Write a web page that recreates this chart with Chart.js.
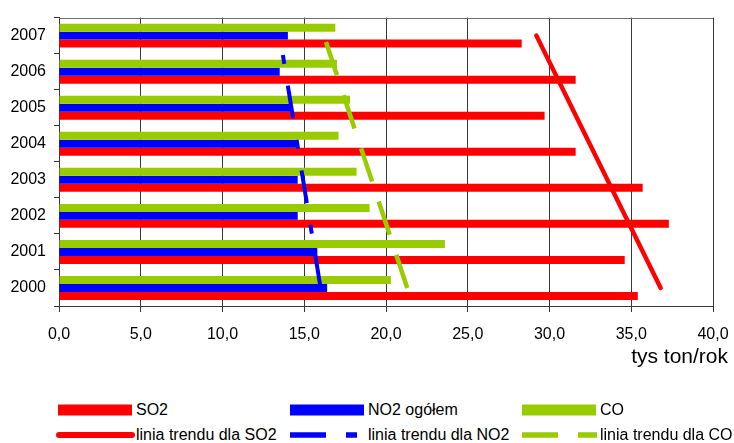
<!DOCTYPE html>
<html>
<head>
<meta charset="utf-8">
<script src="https://cdn.jsdelivr.net/npm/chart.js@4.4.0/dist/chart.umd.min.js"></script>
<style>
  body { margin: 0; background: #fff; font-family: 'Liberation Sans', Arial, sans-serif; color: #000; }
  #wrap { position: relative; width: 734px; height: 443px; overflow: hidden; }
  #chart { position: absolute; left: 0; top: 0; }
  #unit { position: absolute; right: 6px; top: 345px; font-size: 21px; line-height: 21px; }
  .lg-item { position: absolute; height: 16px; display: flex; align-items: center; font-size: 16px; line-height: 16px; white-space: nowrap; }
</style>
</head>
<body>
<div id="wrap">
  <canvas id="chart" width="734" height="345"></canvas>
  <div id="unit">tys ton/rok</div>
  <div id="legend"></div>
</div>
<script>
// years, bottom to top
const years = ['2000', '2001', '2002', '2003', '2004', '2005', '2006', '2007'];

// emissions, tys ton/rok
const so2Values = [35.4, 34.6, 37.3, 35.7, 31.6, 29.7, 31.6, 28.3];
const no2Values = [16.4, 15.8, 14.6, 14.6, 14.6, 14.2, 13.5, 14.0];
const coValues = [20.3, 23.6, 19.0, 18.2, 17.1, 17.8, 17.0, 16.9];

// trend line ends, at 2000 and at 2007
const so2Trend = [36.8, 29.2];
const no2Trend = [16.0, 13.5];
const coTrend = [21.3, 16.2];

const seriesNames = ['SO2', 'NO2 ogółem', 'CO'];
const trendNames = ['linia trendu dla SO2', 'linia trendu dla NO2', 'linia trendu dla CO'];
const colors = ['#FF0000', '#0000FF', '#99CC00'];
const trendDashes = [[], [33, 22, 9, 22], [35, 21]];

const xMax = 40;
const xStep = 5;

const GRID = '#383838';

const trendPoints = t => [
  { x: t[0], y: years[0] },
  { x: t[1], y: years[years.length - 1] }
];

function trendSet(i, t) {
  return {
    type: 'line',
    label: trendNames[i],
    data: trendPoints(t),
    borderColor: colors[i],
    borderWidth: i === 1 ? 4 : 4.5,
    borderDash: trendDashes[i],
    borderCapStyle: i === 0 ? 'round' : 'butt',
    pointRadius: 0,
    fill: false,
    order: 0
  };
}

function barSet(i, values) {
  return {
    type: 'bar',
    label: seriesNames[i],
    data: values,
    backgroundColor: colors[i],
    borderWidth: 0,
    barPercentage: 1,
    categoryPercentage: 0.664,
    order: 1
  };
}

// gray frame line along the top of the plot
const topBorder = {
  id: 'topBorder',
  afterDatasetsDraw(chart) {
    const { ctx, chartArea: a } = chart;
    ctx.save();
    ctx.strokeStyle = '#707070';
    ctx.lineWidth = 1;
    ctx.beginPath();
    ctx.moveTo(a.left, Math.round(a.top) + 0.5);
    ctx.lineTo(a.right, Math.round(a.top) + 0.5);
    ctx.stroke();
    ctx.restore();
  }
};

new Chart(document.getElementById('chart'), {
  data: {
    labels: years,
    datasets: [
      barSet(2, coValues),
      barSet(1, no2Values),
      barSet(0, so2Values),
      trendSet(0, so2Trend),
      trendSet(1, no2Trend),
      trendSet(2, coTrend)
    ]
  },
  options: {
    indexAxis: 'y',
    responsive: false,
    animation: false,
    layout: { padding: { top: 12, right: 21, left: 0, bottom: 0 } },
    plugins: {
      legend: { display: false },
      tooltip: { enabled: false }
    },
    scales: {
      x: {
        type: 'linear',
        min: 0,
        max: xMax,
        ticks: {
          stepSize: xStep,
          color: '#000',
          padding: 13,
          maxRotation: 0,
          minRotation: 0,
          font: { family: "'Liberation Sans', Arial, sans-serif", size: 16 },
          callback: v => v.toFixed(1).replace('.', ',')
        },
        grid: { color: GRID, tickColor: GRID, tickLength: 6, lineWidth: 1 },
        border: { color: GRID },
        afterFit: s => {
          s.height = 39;
          s.paddingLeft = 0;
          s.paddingRight = 0;
        }
      },
      y: {
        type: 'category',
        reverse: true,
        ticks: {
          color: '#000',
          padding: 8,
          font: { family: "'Liberation Sans', Arial, sans-serif", size: 16 }
        },
        grid: { drawOnChartArea: false, tickColor: GRID, tickLength: 5, offset: true },
        border: { color: GRID },
        afterFit: s => { s.width = 59; }
      }
    }
  },
  plugins: [topBorder]
});

// legend below the chart, same order as the reference
const legend = document.getElementById('legend');
const colX = [58, 290, 522];
function addItem(x, y, svg, text) {
  const d = document.createElement('div');
  d.className = 'lg-item';
  d.style.left = x + 'px';
  d.style.top = y + 'px';
  d.innerHTML = svg + '<span>' + text + '</span>';
  legend.appendChild(d);
}
const legendDashes = ['', '36 20 11 20', '36 20'];
seriesNames.forEach((name, i) => {
  addItem(colX[i], 401.5,
    `<svg width="78" height="16"><rect x="0" y="2.5" width="74" height="11" fill="${colors[i]}"/></svg>`,
    name);
});
trendNames.forEach((name, i) => {
  const svg = i === 0
    ? `<svg width="78" height="16" style="margin-left:-2px;width:80px"><line x1="3" y1="8" x2="76" y2="8" stroke="${colors[i]}" stroke-width="6" stroke-linecap="round"/></svg>`
    : `<svg width="78" height="16"><line x1="0" y1="8" x2="75" y2="8" stroke="${colors[i]}" stroke-width="5.5" stroke-dasharray="${legendDashes[i]}"/></svg>`;
  addItem(colX[i], 426.5, svg, name);
});
</script>
</body>
</html>
